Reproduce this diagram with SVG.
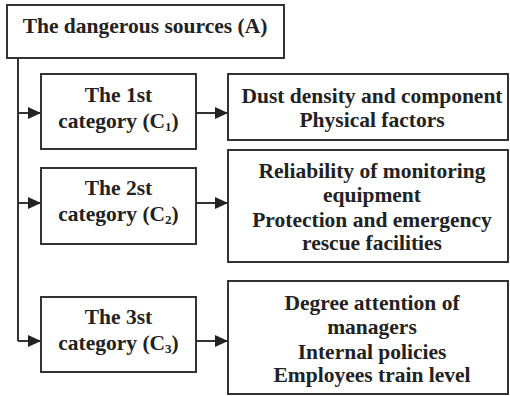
<svg xmlns="http://www.w3.org/2000/svg" width="510" height="396" viewBox="0 0 510 396">
  <style>
    .box { fill: #ffffff; stroke: #333333; stroke-width: 2; }
    .lbl { font-family: "Liberation Serif", "Times New Roman", serif; font-weight: bold; font-size: 21.5px; fill: #222222; text-anchor: middle; }
    .sub { font-size: 13px; }
    .wire { fill: none; stroke: #333333; stroke-width: 2; }
  </style>
  <defs>
    <marker id="arrow" markerWidth="13" markerHeight="12" refX="13" refY="6" orient="auto" markerUnits="userSpaceOnUse">
      <path d="M0,0 L13,6 L0,12 Z" fill="#222222"/>
    </marker>
  </defs>
  <rect width="510" height="396" fill="#ffffff"/>

  <g id="connectors">
    <path class="wire" d="M18,58 V341"/>
    <path class="wire" d="M18,113 H41" marker-end="url(#arrow)"/>
    <path class="wire" d="M18,203 H41" marker-end="url(#arrow)"/>
    <path class="wire" d="M18,341 H41" marker-end="url(#arrow)"/>
    <path class="wire" d="M196,113 H228" marker-end="url(#arrow)"/>
    <path class="wire" d="M196,203 H228" marker-end="url(#arrow)"/>
    <path class="wire" d="M196,341 H228" marker-end="url(#arrow)"/>
  </g>

  <g id="sources">
    <rect class="box" x="7" y="5" width="277" height="53"/>
    <text class="lbl" x="145" y="33">The dangerous sources (A)</text>
  </g>

  <g id="category1">
    <rect class="box" x="41" y="74" width="155" height="75"/>
    <text class="lbl" x="118.5" y="102">The 1st</text>
    <text class="lbl" x="118.5" y="128">category (C<tspan class="sub" dy="3">1</tspan><tspan dy="-3">)</tspan></text>
  </g>

  <g id="category2">
    <rect class="box" x="41" y="168" width="155" height="76"/>
    <text class="lbl" x="118.5" y="195">The 2st</text>
    <text class="lbl" x="118.5" y="221">category (C<tspan class="sub" dy="3">2</tspan><tspan dy="-3">)</tspan></text>
  </g>

  <g id="category3">
    <rect class="box" x="41" y="297" width="155" height="75"/>
    <text class="lbl" x="118.5" y="324">The 3st</text>
    <text class="lbl" x="118.5" y="350">category (C<tspan class="sub" dy="3">3</tspan><tspan dy="-3">)</tspan></text>
  </g>

  <g id="factors1">
    <rect class="box" x="228" y="74" width="280" height="66"/>
    <text class="lbl" x="372" y="103">Dust density and component</text>
    <text class="lbl" x="372" y="127">Physical factors</text>
  </g>

  <g id="factors2">
    <rect class="box" x="228" y="150" width="280" height="112"/>
    <text class="lbl" x="372" y="178">Reliability of monitoring</text>
    <text class="lbl" x="372" y="202">equipment</text>
    <text class="lbl" x="372" y="227">Protection and emergency</text>
    <text class="lbl" x="372" y="250">rescue facilities</text>
  </g>

  <g id="factors3">
    <rect class="box" x="228" y="281" width="280" height="113"/>
    <text class="lbl" x="372" y="310">Degree attention of</text>
    <text class="lbl" x="372" y="334">managers</text>
    <text class="lbl" x="372" y="359">Internal policies</text>
    <text class="lbl" x="372" y="382">Employees train level</text>
  </g>
</svg>
